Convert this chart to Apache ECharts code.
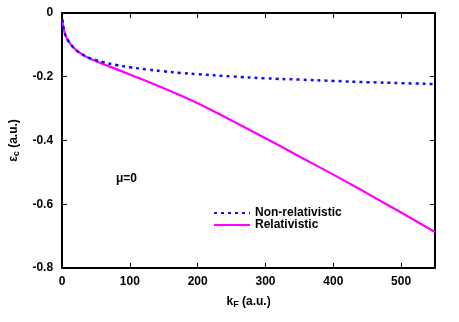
<!DOCTYPE html>
<html>
<head>
<meta charset="utf-8">
<script src="https://cdn.jsdelivr.net/npm/echarts@6/dist/echarts.min.js"></script>
<style>html,body{margin:0;padding:0;background:#fff;}#c{width:459px;height:322px;}</style>
</head>
<body>
<div id="c"></div>
<script>
const kF = [0.5, 1, 2, 5, 10, 20, 30, 40, 50, 60, 80, 100, 125, 150, 175, 200, 250, 300, 350, 400, 450, 500, 550];
const nonRel = [-0.02, -0.03, -0.045, -0.07, -0.09, -0.115, -0.13, -0.141, -0.148, -0.154, -0.163, -0.17, -0.177, -0.183, -0.188, -0.192, -0.199, -0.205, -0.209, -0.213, -0.217, -0.220, -0.223];
const rel = [-0.02, -0.03, -0.045, -0.07, -0.09, -0.115, -0.13, -0.142, -0.151, -0.16, -0.176, -0.193, -0.214, -0.236, -0.259, -0.283, -0.337, -0.393, -0.45, -0.507, -0.566, -0.626, -0.687];
const xTicks = [0, 100, 200, 300, 400, 500];
const yTicks = [-0.8, -0.6, -0.4, -0.2, 0];
const seriesNames = ['Non-relativistic', 'Relativistic'];

const pair = (xs, ys) => xs.map((x, i) => [x, ys[i]]);
const font = 'Liberation Sans, Arial, Helvetica, sans-serif';
const chart = echarts.init(document.getElementById('c'));
const axisCommon = {
  axisLine: { show: true, onZero: false, lineStyle: { color: '#000', width: 2 } },
  axisTick: { show: true, inside: true, length: 5, lineStyle: { color: '#000', width: 1 } },
  splitLine: { show: false },
};
chart.setOption({
  animation: false,
  backgroundColor: '#fff',
  grid: { left: 62, top: 13, right: 24, bottom: 54 },
  xAxis: [
    Object.assign({}, axisCommon, {
      type: 'value', min: 0, max: 550, interval: 100, position: 'bottom',
      axisLabel: { color: '#000', fontFamily: font, fontWeight: 'bold', fontSize: 12, margin: 8,
        formatter: v => xTicks.includes(v) ? String(v) : '' },
      name: '{b|k}{s|F}{b| (a.u.)}', nameLocation: 'middle', nameGap: 26,
      nameTextStyle: { rich: {
        b: { fontFamily: font, fontWeight: 'bold', fontSize: 12, color: '#000' },
        s: { fontFamily: font, fontWeight: 'bold', fontSize: 9, color: '#000', verticalAlign: 'bottom', padding: [6, 0, 0, 0] } } }
    }),
    Object.assign({}, axisCommon, {
      type: 'value', min: 0, max: 550, interval: 100, position: 'top',
      axisLabel: { show: false }
    })
  ],
  yAxis: [
    Object.assign({}, axisCommon, {
      type: 'value', min: -0.8, max: 0, interval: 0.2, position: 'left',
      axisLabel: { color: '#000', fontFamily: font, fontWeight: 'bold', fontSize: 12, margin: 9,
        formatter: v => { const r = Math.round(v * 10) / 10; return r === 0 ? '0' : r.toFixed(1); } },
      name: '{b|ε}{s|c}{b| (a.u.)}', nameLocation: 'middle', nameGap: 36, nameRotate: 90,
      nameTextStyle: { rich: {
        b: { fontFamily: font, fontWeight: 'bold', fontSize: 12, color: '#000' },
        s: { fontFamily: font, fontWeight: 'bold', fontSize: 9, color: '#000', verticalAlign: 'bottom', padding: [6, 0, 0, 0] } } }
    }),
    Object.assign({}, axisCommon, {
      type: 'value', min: -0.8, max: 0, interval: 0.2, position: 'right',
      axisLabel: { show: false }
    })
  ],
  legend: {
    orient: 'vertical', left: 208, top: 202, itemGap: 0, itemWidth: 36, itemHeight: 13,
    itemStyle: { opacity: 0 },
    textStyle: { fontFamily: font, fontWeight: 'bold', fontSize: 12, color: '#000' },
    data: seriesNames
  },
  graphic: [
    { type: 'text', left: 116, top: 173, style: { text: 'μ=0', font: 'bold 12px ' + font, fill: '#000' } }
  ],
  series: [
    { name: seriesNames[0], type: 'line', showSymbol: false, symbol: 'none', smooth: true,
      data: pair(kF, nonRel), z: 3,
      lineStyle: { color: '#1010ee', width: 2.5, type: [3, 4], cap: 'butt' }, itemStyle: { color: '#1010ee' } },
    { name: seriesNames[1], type: 'line', showSymbol: false, symbol: 'none', smooth: true,
      data: pair(kF, rel), z: 2,
      lineStyle: { color: '#ff00ff', width: 2.2, type: 'solid' }, itemStyle: { color: '#ff00ff' } }
  ]
});
</script>
</body>
</html>
